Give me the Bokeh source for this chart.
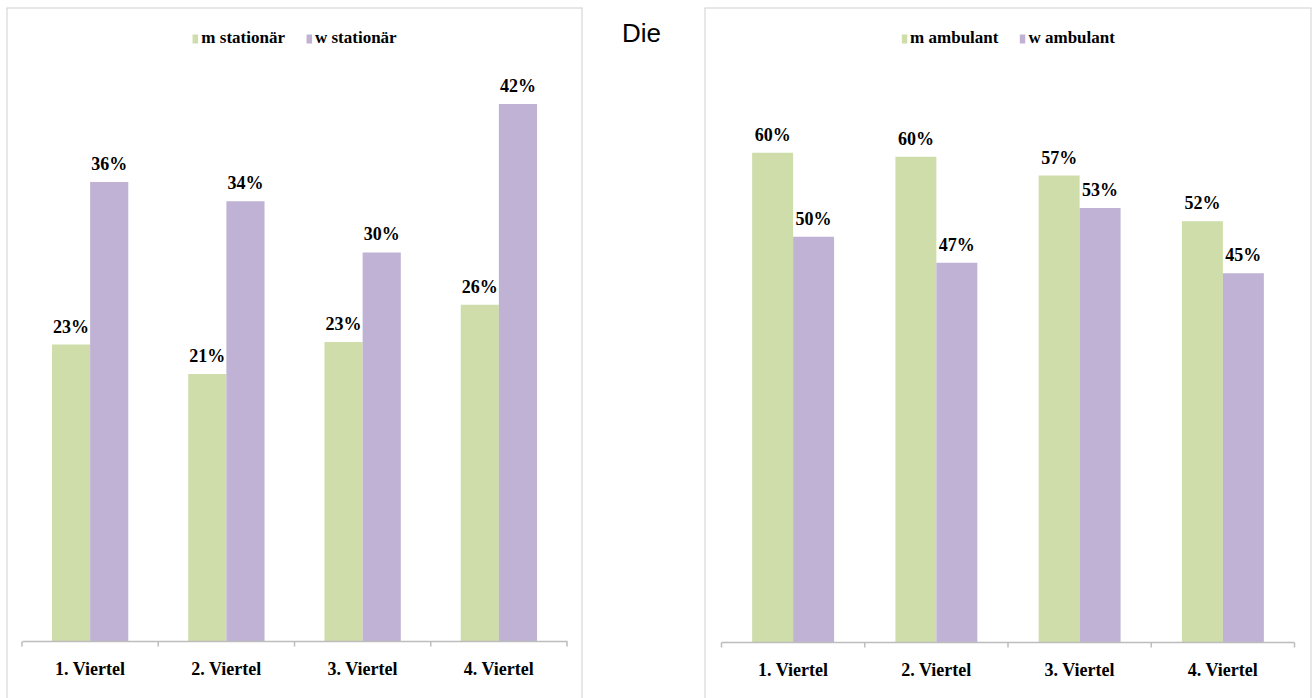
import math
from bokeh.plotting import figure
from bokeh.models import (FactorRange, Range1d, CategoricalAxis, Legend, LegendItem,
                          ColumnDataSource, Label, Span)
from bokeh.transform import dodge
from bokeh.layouts import row
from bokeh.core.properties import value
from bokeh.embed import file_html
from bokeh.resources import INLINE

# ---------------- data ----------------
categories = ["1. Viertel", "2. Viertel", "3. Viertel", "4. Viertel"]

m_stationaer = [23.2, 20.9, 23.4, 26.3]
w_stationaer = [35.9, 34.4, 30.4, 42.0]
m_stationaer_labels = ["23%", "21%", "23%", "26%"]
w_stationaer_labels = ["36%", "34%", "30%", "42%"]

m_ambulant = [60.1, 59.6, 57.3, 51.7]
w_ambulant = [49.8, 46.6, 53.3, 45.3]
m_ambulant_labels = ["60%", "60%", "57%", "52%"]
w_ambulant_labels = ["50%", "47%", "53%", "45%"]

legend_left = ["m stationär", "w stationär"]
legend_right = ["m ambulant", "w ambulant"]
side_text = "Die"

# ---------------- style ----------------
GREEN = "#cedda9"
PURPLE = "#bfb2d4"
BORDER = "#cfcfcf"
AXIS = "#bdbdbd"
SERIF = "Liberation Serif"
H = 698


def make_panel(width, borders, pad, y_rng, bar_w, m_vals, w_vals, m_lab, w_lab, names):
    bl, bt, br = borders
    p = figure(width=width, height=H, output_backend="svg", toolbar_location=None,
               x_range=FactorRange(factors=categories, range_padding=pad,
                                   range_padding_units="absolute"),
               y_range=Range1d(*y_rng), x_axis_location=None, y_axis_location=None,
               min_border_left=bl, min_border_top=bt, min_border_right=br,
               min_border_bottom=0)
    p.xgrid.visible = False
    p.ygrid.visible = False
    p.outline_line_color = None
    p.background_fill_color = "white"
    p.border_fill_color = "white"

    # panel frame: left, top and right edges only (the panel runs off the bottom)
    n = len(categories)
    for loc, dim in ((-pad, "height"), (n + pad, "height"), (y_rng[1], "width")):
        p.add_layout(Span(location=loc, dimension=dim, line_color=BORDER, line_width=2))

    src = ColumnDataSource(dict(cat=categories, m=m_vals, w=w_vals, ml=m_lab, wl=w_lab,
                                zero=[0] * n))
    last = ColumnDataSource(dict(cat=categories[-1:], zero=[0]))
    off = bar_w / 2
    r1 = p.vbar(x=dodge("cat", -off, range=p.x_range), top="m", bottom=0, width=bar_w,
                source=src, fill_color=GREEN, line_color=None)
    r2 = p.vbar(x=dodge("cat", off, range=p.x_range), top="w", bottom=0, width=bar_w,
                source=src, fill_color=PURPLE, line_color=None)
    for key, lab, o in (("m", "ml", -off), ("w", "wl", off)):
        p.text(x=dodge("cat", o, range=p.x_range), y=key, text=lab, source=src,
               text_align="center", text_baseline="alphabetic", y_offset=-18,
               text_font=value(SERIF), text_font_style="bold", text_font_size="18px",
               text_color="black")

    # category boundary tick marks (Excel style), 5 px long below the axis
    p.ray(x=dodge("cat", -0.5, range=p.x_range), y="zero", length=5, length_units="screen",
          angle=-math.pi / 2, source=src, line_color=AXIS, line_width=1.5)
    p.ray(x=dodge("cat", 0.5, range=p.x_range), y="zero", length=5, length_units="screen",
          angle=-math.pi / 2, source=last, line_color=AXIS, line_width=1.5)

    cat_axis = CategoricalAxis(fixed_location=0, bounds=(0, n),
                               axis_line_color=AXIS, axis_line_width=1.5,
                               major_tick_line_color=None, minor_tick_line_color=None,
                               major_label_standoff=11,
                               major_label_text_font=SERIF,
                               major_label_text_font_style="bold",
                               major_label_text_font_size="18px",
                               major_label_text_color="black")
    p.add_layout(cat_axis, "below")

    legend = Legend(items=[LegendItem(label=names[0], renderers=[r1]),
                           LegendItem(label=names[1], renderers=[r2])],
                    orientation="horizontal", location="top_center",
                    border_line_color=None, background_fill_alpha=0,
                    label_text_font=SERIF, label_text_font_style="bold",
                    label_text_font_size="17px", label_text_color="black",
                    glyph_width=7, glyph_height=11, spacing=20, label_standoff=3,
                    padding=4, margin=21)
    p.add_layout(legend)
    return p


left = make_panel(583, (6, 7, 1), 15.5 / 136.25, (-57 / 12.8, 634 / 12.8), 0.28,
                  m_stationaer, w_stationaer, m_stationaer_labels, w_stationaer_labels,
                  legend_left)

right = make_panel(611, (1, 7, 3), 17 / 143.25, (-56 / 8.15, 635 / 8.15), 0.286,
                   m_ambulant, w_ambulant, m_ambulant_labels, w_ambulant_labels,
                   legend_right)

mid = figure(width=120, height=H, output_backend="svg", toolbar_location=None,
             x_range=Range1d(0, 1), y_range=Range1d(0, 1),
             x_axis_location=None, y_axis_location=None,
             min_border=0, outline_line_color=None)
mid.xgrid.visible = False
mid.ygrid.visible = False
mid.add_layout(Label(x=58, y=H - 32, x_units="screen", y_units="screen", text=side_text,
                     text_align="center", text_baseline="alphabetic",
                     text_font="Liberation Sans", text_font_size="26px",
                     text_color="black"))

layout = row(left, mid, right)
open("out.html", "w").write(file_html(layout, INLINE))
